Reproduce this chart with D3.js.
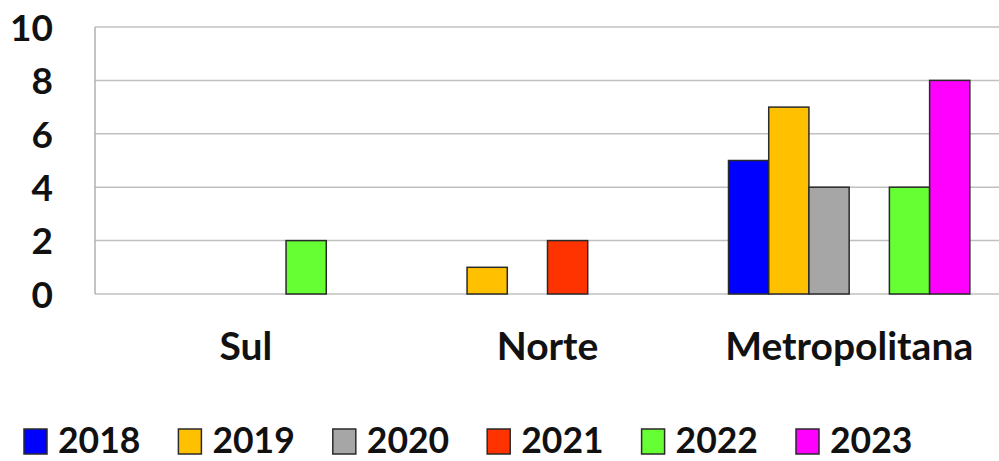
<!DOCTYPE html>
<html>
<head>
<meta charset="utf-8">
<script src="https://cdn.jsdelivr.net/npm/d3@7"></script>
<style>
  html, body { margin: 0; padding: 0; background: #fff; }
  svg { display: block; }
  text { font-family: Lato, "Open Sans", sans-serif; font-weight: 700; fill: #111; }
</style>
</head>
<body>
<svg id="chart" width="999" height="461"></svg>
<script>
const categories = ["Sul", "Norte", "Metropolitana"];
const years = ["2018", "2019", "2020", "2021", "2022", "2023"];
const values2018 = [0, 0, 5];
const values2019 = [0, 1, 7];
const values2020 = [0, 0, 4];
const values2021 = [0, 2, 0];
const values2022 = [2, 0, 4];
const values2023 = [0, 0, 8];
const yTicks = [0, 2, 4, 6, 8, 10];
const colors = ["#0000ff", "#ffc000", "#a6a6a6", "#ff3300", "#66ff33", "#ff00ff"];

const seriesValues = [values2018, values2019, values2020, values2021, values2022, values2023];

const svg = d3.select("#chart");
const plotLeft = 95, plotRight = 1000, plotTop = 27, plotBottom = 294;

const x0 = d3.scaleBand().domain(categories).range([plotLeft, plotRight]).paddingInner(0.2).paddingOuter(0.1);
const x1 = d3.scaleBand().domain(years).range([0, x0.bandwidth()]);
const y = d3.scaleLinear().domain([0, 10]).range([plotBottom, plotTop]);
const color = d3.scaleOrdinal().domain(years).range(colors);

// gridlines
svg.append("g").selectAll("line").data(yTicks).join("line")
  .attr("x1", plotLeft).attr("x2", 999)
  .attr("y1", d => y(d)).attr("y2", d => y(d))
  .attr("stroke", "#c0c0c0").attr("stroke-width", 1.5);

// left axis line
svg.append("line").attr("x1", plotLeft).attr("x2", plotLeft).attr("y1", y(10)).attr("y2", y(0))
  .attr("stroke", "#b0b0b0").attr("stroke-width", 1.5);

// y tick labels
const yAxis = d3.axisLeft(y).tickValues(yTicks).tickSize(0).tickPadding(0);
const gy = svg.append("g").attr("transform", `translate(53,0)`).call(yAxis);
gy.select(".domain").remove();
gy.selectAll("text").attr("font-size", 37).attr("font-family", "Lato").attr("font-weight", 700).attr("fill", "#111").attr("dy", "0.36em");

// bars
const data = [];
categories.forEach((c, ci) => {
  years.forEach((yr, yi) => {
    const v = seriesValues[yi][ci];
    if (v > 0) data.push({ cat: c, year: yr, value: v });
  });
});
svg.append("g").selectAll("rect").data(data).join("rect")
  .attr("x", d => x0(d.cat) + x1(d.year))
  .attr("width", x1.bandwidth())
  .attr("y", d => y(d.value))
  .attr("height", d => y(0) - y(d.value))
  .attr("fill", d => color(d.year))
  .attr("stroke", "#2a2a2a").attr("stroke-width", 1.5);

// category labels
const xAxis = d3.axisBottom(x0).tickSize(0).tickPadding(0);
const gx = svg.append("g").attr("transform", `translate(0,360)`).call(xAxis);
gx.select(".domain").remove();
gx.selectAll("text").attr("font-size", 39).attr("font-family", "Lato").attr("font-weight", 700).attr("fill", "#111").attr("dy", 0);

// legend
const legend = svg.append("g").selectAll("g").data(years).join("g")
  .attr("transform", (d, i) => `translate(${24 + i * 154.4},429)`);
legend.append("rect").attr("width", 23).attr("height", 25)
  .attr("fill", d => color(d)).attr("stroke", "#2a2a2a").attr("stroke-width", 1.5);
legend.append("text").attr("x", 34).attr("y", 24).attr("font-size", 35.5).text(d => d);
</script>
</body>
</html>
